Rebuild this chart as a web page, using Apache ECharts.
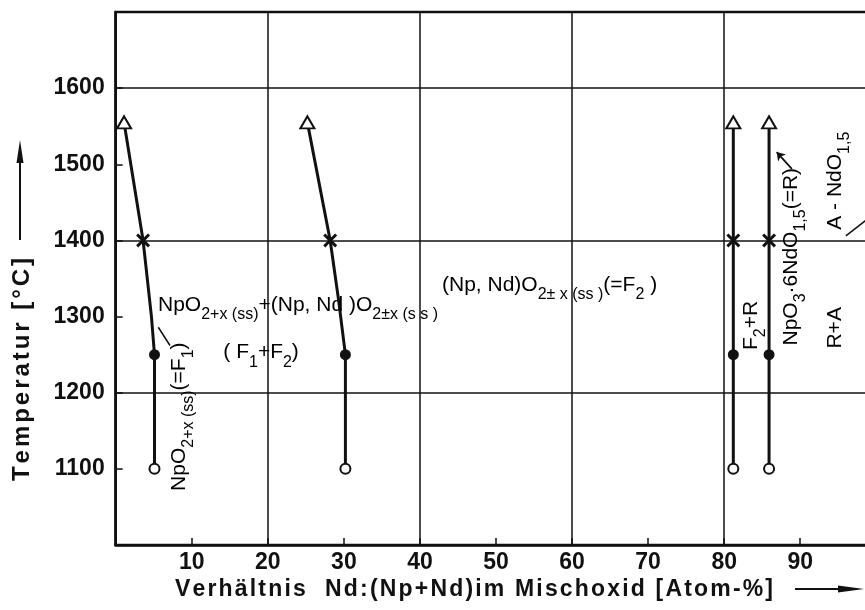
<!DOCTYPE html>
<html>
<head>
<meta charset="utf-8">
<script src="https://cdn.jsdelivr.net/npm/echarts@6/dist/echarts.min.js"></script>
<style>
  html, body { margin: 0; padding: 0; background: #fff; }
  #chart { width: 865px; height: 610px; }
</style>
</head>
<body>
<div id="chart"></div>
<script>
// tick labels
const xTicks = [10, 20, 30, 40, 50, 60, 70, 80, 90];
const yTicks = [1100, 1200, 1300, 1400, 1500, 1600];

// phase boundaries [Nd %, temperature]
const f1Curve = [[1.1, 1555], [3.6, 1400], [4.7, 1300], [5.1, 1250], [5.1, 1100]];
const f2Curve = [[25.2, 1555], [28.2, 1400], [29.3, 1322], [30.2, 1250], [30.2, 1100]];
const f2rCurve = [[81.2, 1555], [81.2, 1100]];
const rCurve = [[85.9, 1555], [85.9, 1100]];

// measuring points
const triangles = [[1.1, 1555], [25.2, 1555], [81.2, 1555], [85.9, 1555]];
const crosses = [[3.6, 1400], [28.2, 1400], [81.2, 1400], [85.9, 1400]];
const filledDots = [[5.1, 1250], [30.2, 1250], [81.2, 1250], [85.9, 1250]];
const openDots = [[5.1, 1100], [30.2, 1100], [81.2, 1100], [85.9, 1100]];

// phase labels (start of text, middle of main line)
const notes = [
    {at: [5.56, 1314], rot: false, text: '{n|NpO}{s|2+x (ss)}{n|+(Np, Nd )O}{s|2±x (s s )}'},
    {at: [42.9, 1341], rot: false, text: '{n|(Np, Nd)O}{s|2± x (ss )}{n|(=F}{s|2}{n| )}'},
    {at: [14.15, 1252], rot: false, text: '{n|( F}{s|1}{n|+F}{s|2}{n|)}'},
    {at: [8.46, 1071], rot: true, text: '{n|NpO}{s|2+x (ss)}{n|(=F}{s|1}{n|)}'},
    {at: [83.64, 1256], rot: true, text: '{n|F}{s|2}{n|+R}'},
    {at: [88.9, 1262], rot: true, text: '{n|NpO}{s|3}{n|·6NdO}{s|1,5}{n|(=R)}'},
    {at: [94.6, 1414], rot: true, text: '{n|A - NdO}{s|1,5}'},
    {at: [94.6, 1258], rot: true, text: '{n|R+A}'}
];
const leaders = [
    [[5.6, 1286], [7.14, 1262]],
    [[96.0, 1406], [98.7, 1427]]
];
const arrows = [
    [[88.9, 1494], [86.9, 1516]]
];

const FONT = '"Liberation Sans", Arial, sans-serif';
const INK = '#111';
const crossPath = 'path://M0,1.5L1.5,0L5,3.5L8.5,0L10,1.5L6.5,5L10,8.5L8.5,10L5,6.5L1.5,10L0,8.5L3.5,5Z';

const chart = echarts.init(document.getElementById('chart'));

function curve(data) {
    return {
        type: 'line', data: data, showSymbol: false, symbol: 'none', z: 3,
        lineStyle: {color: INK, width: 3}, silent: true, animation: false
    };
}
function marks(data, symbol, size, fill) {
    return {
        type: 'scatter', data: data, symbol: symbol, symbolSize: size, z: 5,
        itemStyle: {color: fill, borderColor: INK, borderWidth: fill === INK ? 0 : 2, opacity: 1},
        silent: true, animation: false
    };
}

chart.setOption({
    backgroundColor: '#fff',
    animation: false,
    grid: {
        left: 115.7, top: 12, width: 753, height: 533, outerBoundsMode: 'none',
        show: true, borderColor: INK, borderWidth: 2.5
    },
    xAxis: [{
        type: 'value', min: 0, max: 99, interval: 10,
        axisLine: {show: true, lineStyle: {color: INK, width: 2.5}},
        axisTick: {show: true, inside: true, length: 7, lineStyle: {color: INK, width: 1.5}},
        splitLine: {show: false},
        axisLabel: {
            margin: 6, color: INK, fontSize: 23, fontWeight: 'bold', fontFamily: FONT,
            formatter: v => xTicks.includes(v) ? String(v) : ''
        }
    }, {
        type: 'value', min: 0, max: 99, interval: 20, position: 'bottom',
        axisLine: {show: false}, axisTick: {show: false}, axisLabel: {show: false},
        splitLine: {show: true, lineStyle: {color: INK, width: 1.5}}
    }],
    yAxis: [{
        type: 'value', min: 1000, max: 1700, interval: 100,
        axisLine: {show: true, lineStyle: {color: INK, width: 2.5}},
        axisTick: {show: true, inside: true, length: 7, lineStyle: {color: INK, width: 1.5}},
        splitLine: {show: false},
        axisLabel: {
            margin: 11, color: INK, fontSize: 23, fontWeight: 'bold', fontFamily: FONT,
            formatter: v => yTicks.includes(v) ? String(v) : ''
        }
    }, {
        type: 'value', min: 1000, max: 1700, interval: 200, position: 'left',
        axisLine: {show: false}, axisTick: {show: false}, axisLabel: {show: false},
        splitLine: {show: true, lineStyle: {color: INK, width: 1.5}}
    }],
    series: [
        curve(f1Curve), curve(f2Curve), curve(f2rCurve), curve(rCurve),
        marks(triangles, 'triangle', [14, 12], '#fff'),
        marks(crosses, crossPath, 14, INK),
        marks(filledDots, 'circle', 11, INK),
        marks(openDots, 'circle', 10, '#fff'),
        {
            type: 'lines', coordinateSystem: 'cartesian2d', silent: true, z: 4,
            symbol: 'none', lineStyle: {color: INK, width: 1.5, opacity: 1},
            data: leaders.map(c => ({coords: c}))
        },
        {
            type: 'lines', coordinateSystem: 'cartesian2d', silent: true, z: 4,
            symbol: ['none', 'arrow'], symbolSize: 8, lineStyle: {color: INK, width: 1.8, opacity: 1},
            data: arrows.map(c => ({coords: c}))
        }
    ]
});

const rich = {
    n: {fontSize: 21, lineHeight: 22, fontFamily: FONT, color: INK, verticalAlign: 'top'},
    s: {fontSize: 16, lineHeight: 16, padding: [12, 0, 0, 0], fontFamily: FONT, color: INK, verticalAlign: 'top'}
};

const graphics = notes.map(n => {
    const p = chart.convertToPixel({gridIndex: 0}, n.at);
    return {
        type: 'text', z: 10, silent: true,
        x: n.rot ? p[0] - 11 : p[0],
        y: n.rot ? p[1] : p[1] - 11,
        rotation: n.rot ? Math.PI / 2 : 0,
        style: {text: n.text, rich: rich, align: 'left', verticalAlign: 'top'}
    };
});

// spread letters of a title over a given length (the original is widely spaced)
const ctx = document.createElement('canvas').getContext('2d');
function tracked(text, len, size) {
    ctx.font = 'bold ' + size + 'px ' + FONT;
    const chars = Array.from(text);
    const widths = chars.map(c => ctx.measureText(c).width);
    const total = widths.reduce((a, b) => a + b, 0);
    const gap = (len - total) / (chars.length - 1);
    let pos = 0;
    return chars.map((c, i) => {
        const el = {
            type: 'text', x: pos, y: 0, silent: true,
            style: {text: c, fontSize: size, fontWeight: 'bold', fontFamily: FONT,
                fill: INK, align: 'left', verticalAlign: 'middle'}
        };
        pos += widths[i] + gap;
        return el;
    });
}

// axis titles with arrows
graphics.push(
    {type: 'group', x: 22, y: 481, rotation: Math.PI / 2, children: tracked('Temperatur [°C]', 223, 24)},
    {type: 'line', shape: {x1: 20, y1: 240, x2: 20, y2: 158}, style: {stroke: INK, lineWidth: 2}},
    {type: 'polygon', shape: {points: [[20, 140], [16.5, 163], [23.5, 163]]}, style: {fill: INK}},
    {type: 'group', x: 175, y: 590, children: tracked('Verhältnis  Nd:(Np+Nd)im Mischoxid [Atom-%]', 598, 23)},
    {type: 'line', shape: {x1: 795, y1: 589, x2: 845, y2: 589}, style: {stroke: INK, lineWidth: 2}},
    {type: 'polygon', shape: {points: [[864, 589], [838, 585.5], [838, 592.5]]}, style: {fill: INK}}
);

chart.setOption({graphic: graphics});
</script>
</body>
</html>
